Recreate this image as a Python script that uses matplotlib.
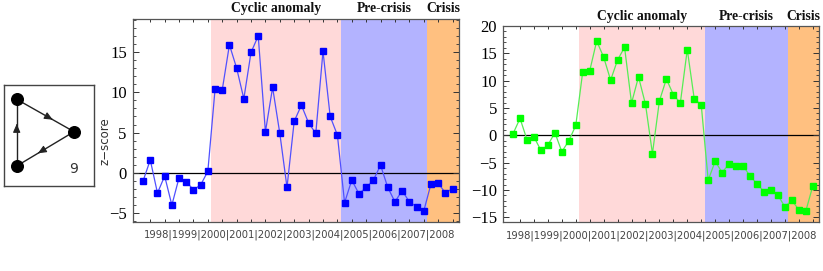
import matplotlib
matplotlib.use("Agg")
import matplotlib.pyplot as plt
from matplotlib.ticker import MultipleLocator, FixedLocator
from matplotlib.transforms import blended_transform_factory
import numpy as np

# ---------------- data ----------------
years = ["1998", "1999", "2000", "2001", "2002", "2003", "2004",
         "2005", "2006", "2007", "2008"]

blue_z = [-1.0, 1.6, -2.5, -0.4, -4.0, -0.6, -1.1, -2.1, -1.5, 0.2,
          10.35, 10.3, 15.9, 13.0, 9.2, 14.95, 17.0, 5.1, 10.6, 4.9,
          -1.8, 6.4, 8.4, 6.2, 4.9, 15.1, 7.0, 4.7,
          -3.7, -0.9, -2.6, -1.8, -0.9, 0.95, -1.8, -3.6, -2.2, -3.6, -4.2, -4.75,
          -1.4, -1.25, -2.5, -1.95]

green_z = [0.3, 3.1, -0.8, -0.3, -2.75, -1.8, 0.5, -3.0, -1.0, 1.8,
           11.65, 11.8, 17.25, 14.3, 10.1, 13.8, 16.1, 5.9, 10.7, 5.7,
           -3.35, 6.3, 10.3, 7.45, 5.9, 15.7, 6.65, 5.6,
           -8.2, -4.75, -6.8, -5.2, -5.7, -5.55, -7.45, -8.85, -10.3, -10.0, -10.9, -13.1,
           -11.9, -13.6, -13.9, -9.3]

# regimes: (label, start index, end index) in quarter units
regimes = [("Cyclic anomaly", 9.5, 27.5),
           ("Pre-crisis", 27.5, 39.5),
           ("Crisis", 39.5, 43.9)]
regime_colors = ["#FFD9D9", "#B3B3FF", "#FFC080"]

motif_id = "9"
motif_nodes = [(12.7, 14.3), (70.0, 46.7), (12.7, 81.0)]
motif_edges = [(0, 1), (1, 2), (2, 0)]

# ---------------- figure ----------------
W, H = 823, 271
fig = plt.figure(figsize=(W / 100, H / 100), dpi=100)


def px_axes(x0, y0, x1, y1):
    return fig.add_axes([x0 / W, 1 - y1 / H, (x1 - x0) / W, (y1 - y0) / H])


serif = "Liberation Serif"


def draw_panel(ax, z, line_color, marker_color, ylim, major):
    x = np.arange(len(z))
    xlim = (-1.4, 43.9)
    for (lab, a, b), c in zip(regimes, regime_colors):
        ax.axvspan(a, b, color=c, lw=0, zorder=0)
    ax.axhline(0, color="black", lw=0.9, zorder=1)
    ax.plot(x, z, color=line_color, lw=0.9, zorder=2)
    ax.plot(x, z, ls="none", marker="s", ms=4.2, color=marker_color,
            mec=marker_color, zorder=3)
    ax.set_xlim(*xlim)
    ax.set_ylim(*ylim)
    ax.xaxis.set_major_locator(FixedLocator(np.arange(1, len(z), 2)))
    ax.set_xticklabels([])
    ax.yaxis.set_major_locator(MultipleLocator(major))
    ax.yaxis.set_minor_locator(MultipleLocator(1))
    ax.tick_params(axis="both", which="both", direction="in",
                   top=True, right=True, colors="#333333")
    ax.tick_params(axis="x", which="major", length=2.5, width=0.7)
    ax.tick_params(axis="y", which="major", length=4, width=0.7, pad=4.5,
                   labelsize=12, labelcolor="black")
    ax.tick_params(axis="y", which="minor", length=2, width=0.6)
    for lbl in ax.get_yticklabels():
        lbl.set_fontfamily(serif)
    for sp in ax.spines.values():
        sp.set_color("#555555")
        sp.set_linewidth(0.9)
    trans = blended_transform_factory(ax.transData, ax.transAxes)
    for lab, a, b in regimes:
        ax.text((a + min(b, xlim[1])) / 2, 1.05, lab, transform=trans,
                ha="center", va="center", fontsize=9.8, fontweight="bold",
                family=serif, color="#111111")
    return ax


ax1 = px_axes(133, 19, 459, 222)
draw_panel(ax1, blue_z, "#5050ff", "#0000ff", (-6.1, 19.1), 5)
ax1.text(0.51, -0.064, "|".join(years), transform=ax1.transAxes,
         ha="center", va="center", fontsize=7.2, color="#444444")

ax2 = px_axes(503.3, 26, 819, 221.7)
draw_panel(ax2, green_z, "#55ee55", "#00ff00", (-15.8, 20.0), 5)
ax2.text(0.502, -0.073, "|".join(years), transform=ax2.transAxes,
         ha="center", va="center", fontsize=7.2, color="#444444")

fig.text(105 / W, 1 - 141 / H, "z\u2212score", rotation=90, ha="center",
         va="center", fontsize=8.5, color="#333333")

# ---------------- motif icon ----------------
axm = px_axes(4, 85, 94, 186)
axm.set_xlim(0, 90)
axm.set_ylim(101, 0)
axm.set_xticks([])
axm.set_yticks([])
for sp in axm.spines.values():
    sp.set_color("#444444")
    sp.set_linewidth(1.0)
for a, b in motif_edges:
    (xa, ya), (xb, yb) = motif_nodes[a], motif_nodes[b]
    axm.plot([xa, xb], [ya, yb], color="#222222", lw=1.0, zorder=1)
    mx, my = xa + 0.62 * (xb - xa), ya + 0.62 * (yb - ya)
    dx, dy = (xb - xa) * 0.01, (yb - ya) * 0.01
    axm.annotate("", xy=(mx + dx, my + dy), xytext=(mx - dx, my - dy),
                 arrowprops=dict(arrowstyle="-|>,head_length=0.5,head_width=0.22",
                                 color="#222222", lw=0.8, shrinkA=0, shrinkB=0))
nx = [p[0] for p in motif_nodes]
ny = [p[1] for p in motif_nodes]
axm.scatter(nx, ny, s=70, color="black", zorder=3)
axm.text(70, 84, motif_id, ha="center", va="center", fontsize=10,
         color="#333333")

fig.savefig("out.png", dpi=100)
